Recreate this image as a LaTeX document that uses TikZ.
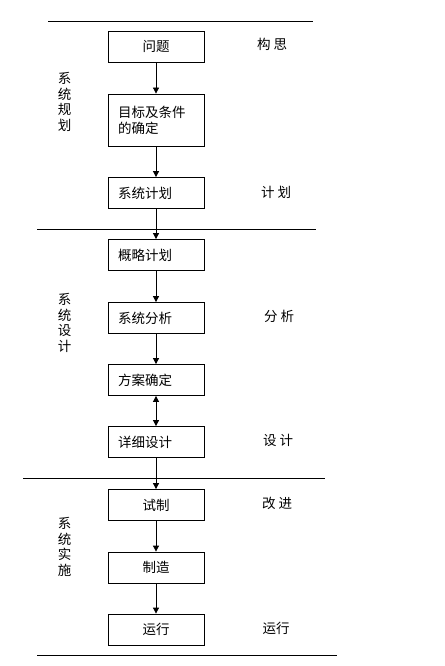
\documentclass[tikz,border=0pt]{standalone}
\usepackage{fontspec}
\setmainfont{Noto Sans CJK SC}
\usetikzlibrary{arrows.meta}
\begin{document}
\begin{tikzpicture}[x=1pt,y=-1pt,
  box/.style={draw,line width=0.8pt,minimum width=96pt,minimum height=31pt,inner sep=0pt,font=\fontsize{13.5}{16}\selectfont},
  lbox/.style={box,text width=76pt,align=left},
  lab/.style={font=\fontsize{13.5}{16}\selectfont,inner sep=0pt},
  vlab/.style={font=\fontsize{13.5}{15.7}\selectfont,align=center,inner sep=0pt},
  tip/.style={Triangle[width=6pt,length=6pt]},
  arr/.style={-{Triangle[width=6pt,length=6pt]},line width=0.8pt},
  darr/.style={{Triangle[width=6pt,length=6pt]}-{Triangle[width=6pt,length=6pt]},line width=0.8pt},
  sep/.style={line width=0.8pt}]
\useasboundingbox (0,0) rectangle (444,666);
% separators
\draw[sep] (48,21) -- (313,21);
\draw[sep] (37,229) -- (316,229);
\draw[sep] (23,478) -- (325,478);
\draw[sep] (37,655) -- (337,655);
% boxes
\node[box] (q) at (156,46.5) {问题};
\node[lbox,minimum height=52pt] (g) at (156,120) {目标及条件\\的确定};
\node[lbox] (s1) at (156,193) {系统计划};
\node[lbox] (p1) at (156,255) {概略计划};
\node[lbox] (s2) at (156,318) {系统分析};
\node[lbox] (f) at (156,380) {方案确定};
\node[lbox] (d) at (156,442) {详细设计};
\node[box] (t) at (156,505) {试制};
\node[box] (m) at (156,567.5) {制造};
\node[box] (r) at (156,629.5) {运行};
% arrows
\draw[arr] (q) -- (g);
\draw[arr] (g) -- (s1);
\draw[arr] (s1) -- (p1);
\draw[arr] (p1) -- (s2);
\draw[arr] (s2) -- (f);
\draw[darr] (f) -- (d);
\draw[arr] (d) -- (t);
\draw[arr] (t) -- (m);
\draw[arr] (m) -- (r);
% left labels
\node[vlab] (L1) at (64.5,102) {系\\统\\规\\划};
\node[vlab] (L2) at (64.5,323) {系\\统\\设\\计};
\node[vlab] (L3) at (64.5,547) {系\\统\\实\\施};
% right labels
\node[lab] (R1) at (272,44) {构\hspace{3pt}思};
\node[lab] (R2) at (276,192) {计\hspace{3pt}划};
\node[lab] (R3) at (279,316) {分\hspace{3pt}析};
\node[lab] (R4) at (278,440) {设\hspace{3pt}计};
\node[lab] (R5) at (277,503) {改\hspace{3pt}进};
\node[lab] (R6) at (276,628) {运行};
\end{tikzpicture}
\end{document}
